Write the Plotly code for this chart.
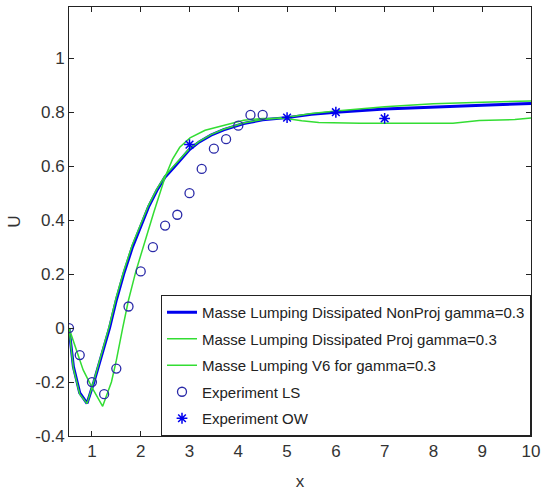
import plotly.graph_objects as go

# Masse Lumping Dissipated NonProj gamma=0.3
x_nonproj = [0.53, 0.62, 0.75, 0.9, 1.04, 1.2, 1.36, 1.5, 1.65, 1.83, 2.0, 2.16, 2.33, 2.5, 2.7, 2.9, 3.0, 3.2,
             3.44, 3.7, 4.11, 4.5, 5.0, 5.5, 6.0, 7.0, 8.0, 9.0, 10.0]
y_nonproj = [0.0, -0.143, -0.24, -0.279, -0.2, -0.1, 0.0, 0.104, 0.2, 0.3, 0.38, 0.449, 0.51, 0.56, 0.60, 0.64,
             0.662, 0.69, 0.715, 0.735, 0.758, 0.772, 0.78, 0.792, 0.80, 0.812, 0.82, 0.826, 0.832]

# Masse Lumping Dissipated Proj gamma=0.3
x_proj = [0.53, 0.62, 0.75, 0.9, 1.04, 1.2, 1.36, 1.5, 1.65, 1.83, 2.0, 2.16, 2.33, 2.5, 2.7, 2.9, 3.0, 3.2,
          3.44, 3.7, 4.11, 4.5, 5.0, 5.5, 6.0, 7.0, 8.0, 9.0, 10.0]
y_proj = [0.0, -0.15, -0.245, -0.28, -0.195, -0.09, 0.01, 0.115, 0.21, 0.31, 0.385, 0.455, 0.515, 0.565, 0.605,
          0.645, 0.665, 0.692, 0.717, 0.737, 0.76, 0.773, 0.781, 0.795, 0.805, 0.82, 0.831, 0.837, 0.842]

# Masse Lumping V6 for gamma=0.3
x_v6 = [0.53, 0.82, 1.0, 1.22, 1.4, 1.5, 1.63, 1.75, 1.9, 2.05, 2.27, 2.5, 2.65, 2.8, 3.01, 3.32, 3.59, 4.11, 4.5,
        4.98, 5.3, 5.65, 6.5, 7.5, 8.4, 8.94, 9.67, 10.0]
y_v6 = [0.0, -0.155, -0.22, -0.29, -0.2, -0.12, 0.0, 0.104, 0.21, 0.30, 0.43, 0.56, 0.625, 0.67, 0.705, 0.733,
        0.745, 0.77, 0.777, 0.777, 0.768, 0.762, 0.759, 0.759, 0.759, 0.769, 0.773, 0.779]

# Experiment LS
x_ls = [0.53, 0.75, 1.0, 1.25, 1.5, 1.75, 2.0, 2.25, 2.5, 2.75, 3.0, 3.25, 3.5, 3.75, 4.0, 4.25, 4.5]
y_ls = [0.0, -0.1, -0.2, -0.245, -0.15, 0.08, 0.21, 0.30, 0.38, 0.42, 0.50, 0.59, 0.665, 0.70, 0.75, 0.79, 0.79]

# Experiment OW
x_ow = [3.0, 5.0, 6.0, 7.0]
y_ow = [0.68, 0.78, 0.80, 0.777]

x_ticks = [1, 2, 3, 4, 5, 6, 7, 8, 9, 10]
y_ticks = [-0.4, -0.2, 0, 0.2, 0.4, 0.6, 0.8, 1]
y_ticklabels = ["-0.4", "-0.2", "0", "0.2", "0.4", "0.6", "0.8", "1"]

BLUE = "#0000ee"
GREEN = "#33dd33"
MARK = "#2a2aa8"

fig = go.Figure()
fig.add_trace(go.Scatter(x=x_nonproj, y=y_nonproj, mode="lines", name="Masse Lumping Dissipated NonProj gamma=0.3",
                         line=dict(color=BLUE, width=3), legendgroup="a"))
fig.add_trace(go.Scatter(x=x_proj, y=y_proj, mode="lines", name="Masse Lumping Dissipated Proj gamma=0.3",
                         line=dict(color=GREEN, width=1.5), legendgroup="b"))
fig.add_trace(go.Scatter(x=x_v6, y=y_v6, mode="lines", name="Masse Lumping V6 for gamma=0.3",
                         line=dict(color=GREEN, width=1.5), legendgroup="c"))
fig.add_trace(go.Scatter(x=x_ls, y=y_ls, mode="markers", name="Experiment LS",
                         marker=dict(symbol="circle-open", size=9, color=MARK, line=dict(width=1.3)),
                         legendgroup="d"))
fig.add_trace(go.Scatter(x=x_ow, y=y_ow, mode="markers", name="Experiment OW",
                         marker=dict(symbol="asterisk-open", size=9, color=BLUE, line=dict(width=1.5)),
                         legendgroup="e"))

axis_common = dict(showline=True, linecolor="#222", linewidth=1, mirror="ticks", ticks="inside",
                   ticklen=5, tickcolor="#222", showgrid=False, zeroline=False,
                   tickfont=dict(family="Liberation Sans, Arial", size=17, color="#333"))
fig.update_xaxes(range=[0.53, 10], tickvals=x_ticks, ticklabeloverflow="allow",
                 title=dict(text="x", font=dict(size=17, color="#333"), standoff=14), **axis_common)
fig.update_yaxes(range=[-0.4, 1.19], tickvals=y_ticks, ticktext=y_ticklabels,
                 title=dict(text="U", font=dict(size=17, color="#333"), standoff=10), **axis_common)

fig.update_layout(
    width=546, height=495,
    margin=dict(l=69, r=9, t=6, b=59),
    paper_bgcolor="white", plot_bgcolor="white",
    font=dict(family="Liberation Sans, Arial", color="#222"),
    legend=dict(x=1, y=0, xanchor="right", yanchor="bottom", bordercolor="#222", borderwidth=1,
                bgcolor="white", font=dict(size=15, color="#222"), traceorder="grouped",
                tracegroupgap=4),
)

fig.write_html("out.html")
